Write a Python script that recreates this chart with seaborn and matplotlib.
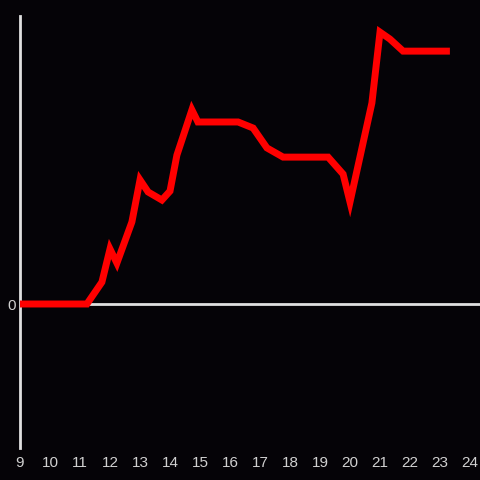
import pandas as pd
import seaborn as sns
import matplotlib.pyplot as plt

# hour of day and value
hours = [9.0, 11.23, 11.73, 12.0, 12.23, 12.73, 13.0, 13.27, 13.73, 14.0, 14.23,
         14.73, 14.93, 16.27, 16.77, 17.23, 17.77, 19.27, 19.77, 20.0, 20.73,
         21.0, 21.33, 21.77, 23.33]
values = [0, 0, 7.6, 19.1, 14.2, 28.5, 43.1, 38.9, 36.1, 39.2, 51.7,
          67.4, 63.2, 63.2, 61.1, 54.2, 51.0, 51.0, 45.1, 35.4, 69.8,
          94.4, 92.0, 87.8, 87.8]
xticks = list(range(9, 25))

df = pd.DataFrame({'hour': hours, 'value': values})

bg = '#050307'
axis_col = '#e0e0e0'
text_col = '#d0d0d0'

sns.set_style('dark')
plt.rcParams['font.family'] = ['Liberation Sans', 'DejaVu Sans']

fig = plt.figure(figsize=(4.8, 4.8), dpi=100, facecolor=bg)
ax = fig.add_axes([20 / 480, 32 / 480, 460 / 480, 432 / 480])
ax.set_facecolor(bg)

sns.lineplot(data=df, x='hour', y='value', ax=ax, color='#ff0000',
             linewidth=5, estimator=None, solid_joinstyle='miter',
             solid_capstyle='butt', zorder=3)
ax.axhline(0, color=axis_col, linewidth=2, zorder=2)

ax.set_xlim(9, 9 + 460 / 30)
ax.set_ylim(-50, 100)
ax.set_xticks(xticks)
ax.set_xticklabels([str(t) for t in xticks])
ax.set_yticks([0])
ax.set_yticklabels(['0'])
ax.tick_params(axis='both', length=0, colors=text_col, labelsize=11)
ax.tick_params(axis='x', pad=6)
ax.tick_params(axis='y', pad=3)
ax.set_xlabel('')
ax.set_ylabel('')
ax.grid(False)

for side in ['top', 'right', 'bottom']:
    ax.spines[side].set_visible(False)
ax.spines['left'].set_visible(True)
ax.spines['left'].set_color(axis_col)
ax.spines['left'].set_linewidth(2)

fig.savefig('out.png', dpi=100, facecolor=bg)
